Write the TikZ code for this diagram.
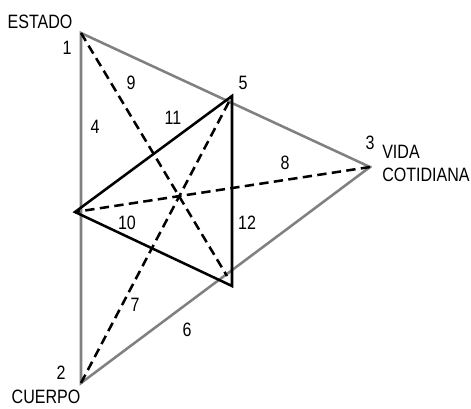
\documentclass[tikz,border=0pt]{standalone}
\usepackage{fontspec}
\setmainfont[FakeStretch=0.83]{Liberation Sans}
\usetikzlibrary{positioning}

\begin{document}
\begin{tikzpicture}[x=0.75pt,y=-0.75pt,
    outer/.style={draw=black!50,line width=1.9pt,line join=miter},
    inner/.style={draw=black,line width=1.9pt,line join=miter},
    axisline/.style={draw=black,line width=1.9pt,dash pattern=on 7pt off 4pt},
    lbl/.style={font=\fontsize{14.5}{17.25}\selectfont,inner sep=0pt}]
    \useasboundingbox (0,0) rectangle (471,408);

    % vertices
    \coordinate (estado) at (81,33);
    \coordinate (cuerpo) at (81,383);
    \coordinate (vida) at (370,167);
    \coordinate (top) at (232,96);
    \coordinate (left) at (75,212);
    \coordinate (right) at (232,286);
    \coordinate (foot) at (227,276);

    \draw[outer] (estado) -- (cuerpo) -- (vida) -- cycle;

    \draw[axisline] (estado) -- (foot);
    \draw[axisline] (cuerpo) -- (top);
    \draw[axisline] (vida) -- (left);

    \draw[inner] (left) -- (top) -- (right) -- cycle;

    \node[lbl] (estadolbl) at (40,22) {ESTADO};
    \node[lbl] (cuerpolbl) at (46,397) {CUERPO};
    \node[lbl,anchor=north west,align=left] (vidalbl) at (382,145) {VIDA\\COTIDIANA};

    \node[lbl] (n1) at (67,48) {1};
    \node[lbl] (n2) at (61,373) {2};
    \node[lbl] (n3) at (370,143) {3};
    \node[lbl] (n4) at (95,127) {4};
    \node[lbl] (n5) at (243,83) {5};
    \node[lbl] (n6) at (187,330) {6};
    \node[lbl] (n7) at (135,305) {7};
    \node[lbl] (n8) at (285,163) {8};
    \node[lbl] (n9) at (131,83) {9};
    \node[lbl] (n10) at (127,223) {10};
    \node[lbl] (n11) at (173,118) {11};
    \node[lbl] (n12) at (247,223) {12};

\end{tikzpicture}
\end{document}
